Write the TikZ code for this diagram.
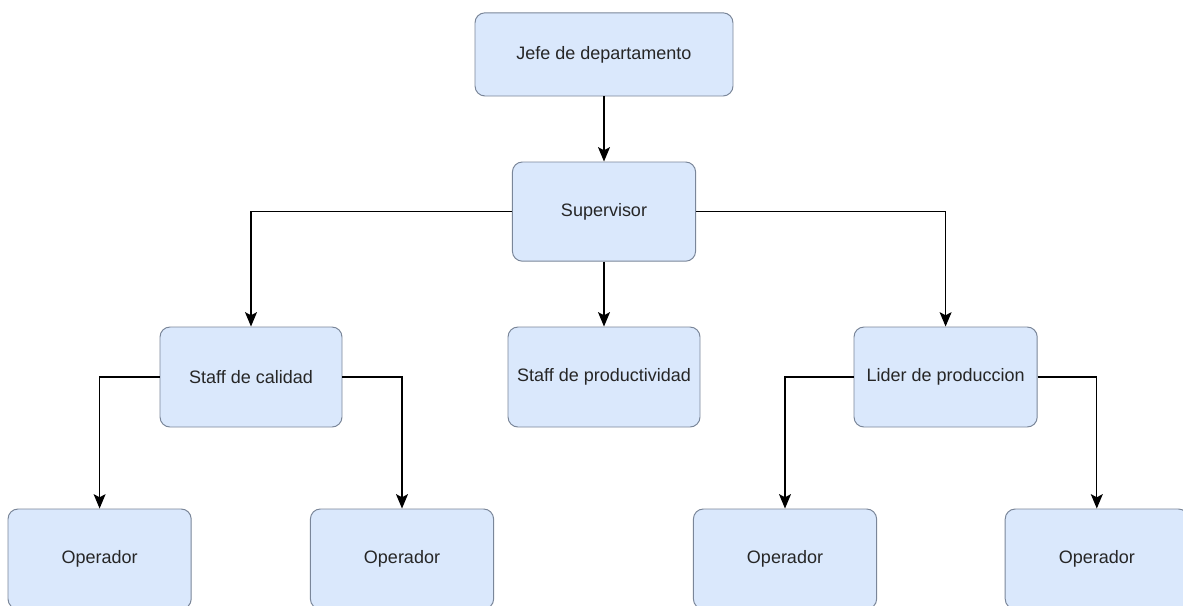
\documentclass[tikz,border=0pt]{standalone}
\usepackage{fontspec}
\setmainfont{Liberation Sans}
\usetikzlibrary{arrows.meta}

\definecolor{boxfill}{HTML}{DAE8FC}
\definecolor{boxline}{HTML}{7A8699}

\tikzset{
  box/.style={rectangle, rounded corners=0.25cm, draw=boxline, line width=0.7pt, fill=boxfill,
    minimum width=4.58cm, minimum height=2.5cm, text=black!85, font=\fontsize{12.8}{15}\selectfont},
  link/.style={draw, line width=0.9pt, -{Stealth[length=0.36cm, width=0.3cm, inset=0.08cm]}}
}

\begin{document}
\begin{tikzpicture}

\useasboundingbox (0,0) rectangle (29.575,-15.15);

% Top levels
\node[box, minimum width=6.45cm, minimum height=2.08cm] (jefe) at (15.1,-1.36) {Jefe de departamento};
\node[box, minimum height=2.48cm] (super) at (15.1,-5.29) {Supervisor};

% Staff
\node[box, minimum width=4.55cm] (calidad) at (6.275,-9.425) {Staff de calidad};
\node[box, minimum width=4.8cm] (product) at (15.1,-9.425) {Staff de productividad};
\node[box] (lider) at (23.64,-9.425) {Lider de produccion};

% Operators
\node[box] (opA) at (2.49,-13.975) {Operador};
\node[box] (opB) at (10.05,-13.975) {Operador};
\node[box] (opC) at (19.625,-13.975) {Operador};
\node[box] (opD) at (27.42,-13.975) {Operador};

% Links
\draw[link] (jefe) -- (super);
\draw[link] (super) -- (product);
\draw[link] (super.west) -| (calidad.north);
\draw[link] (super.east) -| (lider.north);
\draw[link] (calidad.west) -| (opA.north);
\draw[link] (calidad.east) -| (opB.north);
\draw[link] (lider.west) -| (opC.north);
\draw[link] (lider.east) -| (opD.north);

\end{tikzpicture}
\end{document}
